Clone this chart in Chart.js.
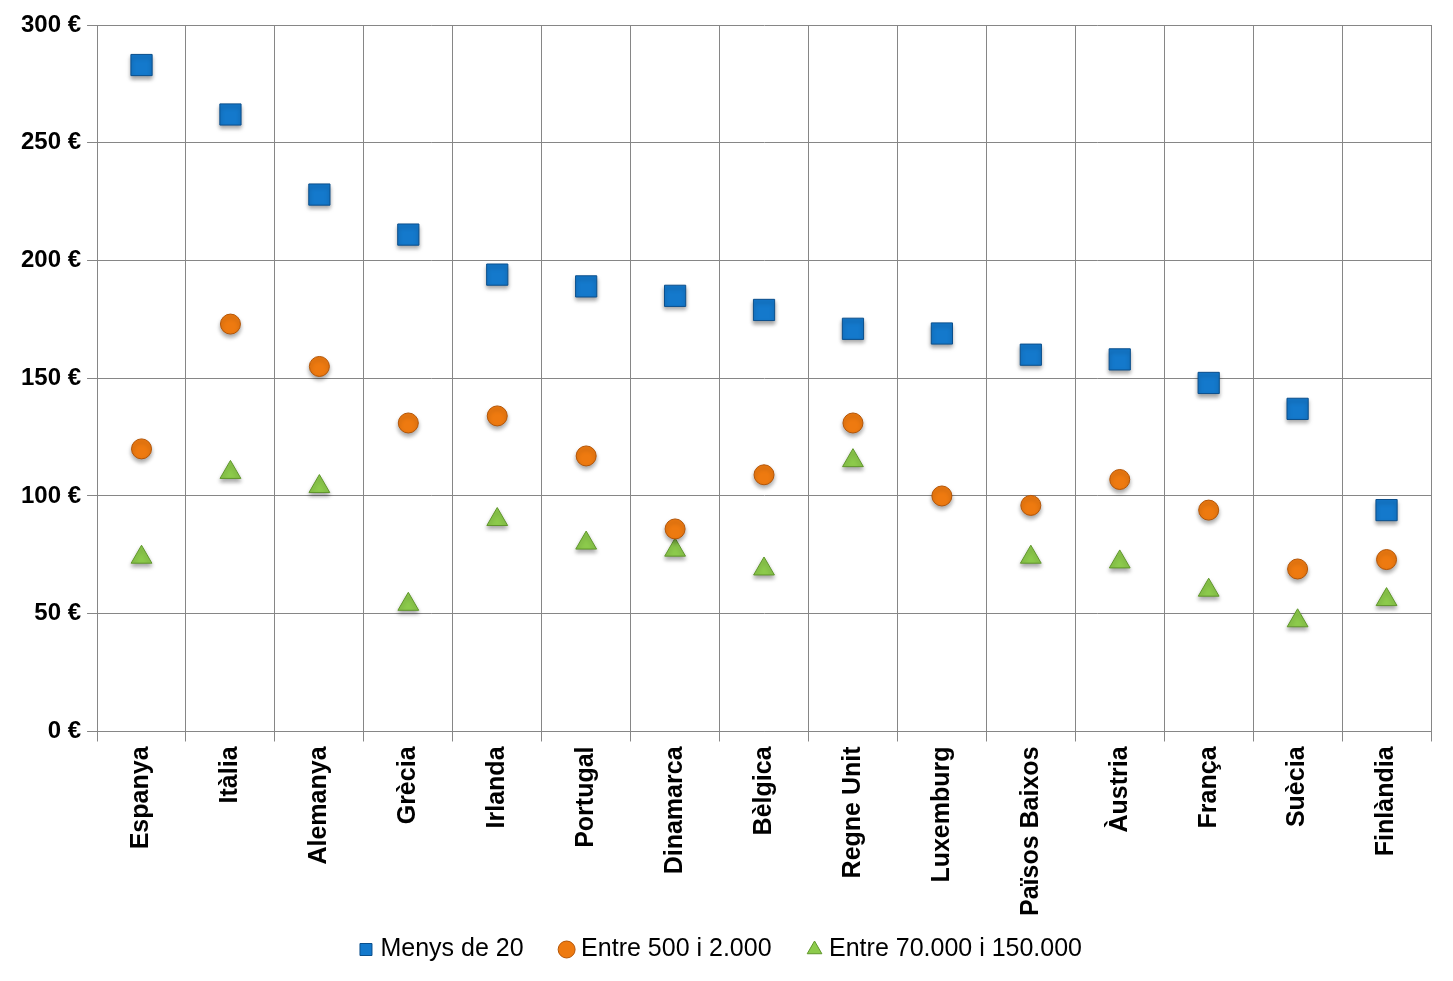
<!DOCTYPE html>
<html>
<head>
<meta charset="utf-8">
<script src="https://cdn.jsdelivr.net/npm/chart.js@4.4.1/dist/chart.umd.min.js"></script>
<style>
  html, body { margin: 0; padding: 0; background: #fff; }
  #wrap { width: 1453px; height: 981px; }
</style>
</head>
<body>
<div id="wrap"><canvas id="chart" width="1453" height="981"></canvas></div>
<script>
var countries = ["Espanya", "Itàlia", "Alemanya", "Grècia", "Irlanda", "Portugal", "Dinamarca", "Bèlgica", "Regne Unit", "Luxemburg", "Països Baixos", "Àustria", "França", "Suècia", "Finlàndia"];
var menys20 = [283, 262, 228, 211, 194, 189, 185, 179, 171, 169, 160, 158, 148, 137, 94];
var entre500 = [120, 173, 155, 131, 134, 117, 86, 109, 131, 100, 96, 107, 94, 69, 73];
var entre70000 = [74, 110, 104, 54, 90, 80, 77, 69, 115, null, 74, 72, 60, 47, 56];
var yTicks = [0, 50, 100, 150, 200, 250, 300];

var font = "'Liberation Sans', Arial, sans-serif";

// little drop shadow under the markers, like the office chart
var shadowPlugin = {
    id: 'shadow',
    beforeDatasetsDraw: function(chart) {
        var ctx = chart.ctx;
        ctx.save();
        ctx.shadowColor = 'rgba(0,0,0,0.35)';
        ctx.shadowBlur = 4;
        ctx.shadowOffsetY = 3;
    },
    afterDatasetsDraw: function(chart) {
        chart.ctx.restore();
    }
};

new Chart(document.getElementById("chart"), {
    type: "line",
    data: {
        labels: countries,
        datasets: [
            {
                label: "Menys de 20",
                data: menys20,
                showLine: false,
                pointStyle: "rect",
                pointRadius: 15,
                pointHoverRadius: 15,
                backgroundColor: "#1479CC",
                borderColor: "#0B4F8C",
                pointBorderWidth: 1
            },
            {
                label: "Entre 500 i 2.000",
                data: entre500,
                showLine: false,
                pointStyle: "circle",
                pointRadius: 10,
                pointHoverRadius: 10,
                backgroundColor: "#EE7A10",
                borderColor: "#B45506",
                pointBorderWidth: 1
            },
            {
                label: "Entre 70.000 i 150.000",
                data: entre70000,
                showLine: false,
                pointStyle: "triangle",
                pointRadius: 12,
                pointHoverRadius: 12,
                backgroundColor: "#8DCB4C",
                borderColor: "#5F962A",
                pointBorderWidth: 1
            }
        ]
    },
    options: {
        responsive: false,
        animation: false,
        layout: { padding: { left: 15, right: 22, top: 25, bottom: 9 } },
        plugins: {
            legend: {
                position: "bottom",
                labels: {
                    usePointStyle: true,
                    boxHeight: 12,
                    boxWidth: 4,
                    padding: 16,
                    color: "#000",
                    font: { family: font, size: 25 },
                    generateLabels: function(chart) {
                        var items = Chart.defaults.plugins.legend.labels.generateLabels(chart);
                        // wider gap between items without a tall legend box
                        items.forEach(function(it, i) {
                            if (i < items.length - 1) it.text = it.text + "\u2002\u2002";
                        });
                        return items;
                    }
                }
            },
            tooltip: { enabled: false }
        },
        scales: {
            x: {
                offset: true,
                grid: { offset: true, color: "#868686", lineWidth: 1, tickLength: 10 },
                border: { color: "#868686" },
                ticks: {
                    minRotation: 90,
                    maxRotation: 90,
                    color: "#000",
                    padding: 5,
                    font: { family: font, size: 25, weight: "bold" }
                }
            },
            y: {
                min: 0,
                max: 300,
                afterBuildTicks: function(axis) {
                    axis.ticks = yTicks.map(function(v) { return { value: v }; });
                },
                grid: { color: "#868686", lineWidth: 1, tickLength: 10 },
                border: { color: "#868686" },
                ticks: {
                    color: "#000",
                    padding: 6,
                    font: { family: font, size: 24, weight: "bold" },
                    callback: function(v) { return v + " €"; }
                }
            }
        }
    },
    plugins: [shadowPlugin]
});
</script>
</body>
</html>
